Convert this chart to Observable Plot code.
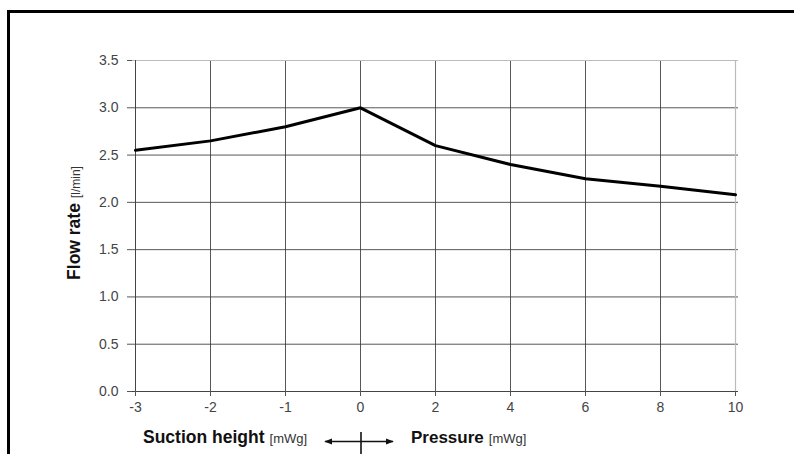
<!DOCTYPE html>
<html>
<head>
<meta charset="utf-8">
<script src="https://cdn.jsdelivr.net/npm/d3@7"></script>
<script src="https://cdn.jsdelivr.net/npm/@observablehq/plot@0.6"></script>
<style>
  html, body { margin: 0; padding: 0; background: #fff; }
  #wrap { position: relative; width: 794px; height: 454px; overflow: hidden; }
  #border { position: absolute; left: 7px; top: 10px; width: 800px; height: 460px;
            border-left: 3px solid #000; border-top: 3px solid #000; pointer-events: none; }
  svg { font-family: "Liberation Sans", Arial, sans-serif; }
  svg g[aria-label$="tick label"] text { font-size: 14px !important; fill: #444 !important; }
</style>
</head>
<body>
<div id="wrap"><div id="border"></div></div>
<script>
// Data
const xLabels = ["-3", "-2", "-1", "0", "2", "4", "6", "8", "10"];
const flowRate = [2.55, 2.65, 2.8, 3.0, 2.6, 2.4, 2.25, 2.17, 2.08];
const yTicks = [0, 0.5, 1.0, 1.5, 2.0, 2.5, 3.0, 3.5];
const data = xLabels.map((x, i) => ({x, y: flowRate[i]}));

const chart = Plot.plot({
  width: 794,
  height: 454,
  marginLeft: 132,
  marginRight: 56,
  marginTop: 60,
  marginBottom: 63,
  style: {background: "transparent", fontFamily: "Liberation Sans, Arial, sans-serif", fontSize: "14px", color: "#444"},
  x: {type: "point", domain: xLabels, padding: 0, label: null},
  y: {domain: [0, 3.5], label: null},
  marks: [
    Plot.gridX(xLabels, {stroke: "#3a3a3a", strokeOpacity: 0.85, strokeWidth: 1}),
    Plot.gridY(yTicks, {stroke: "#3a3a3a", strokeOpacity: 0.85, strokeWidth: 1}),
    Plot.ruleX([xLabels[xLabels.length - 1]], {stroke: "#bbb", strokeWidth: 1.2}),
    Plot.ruleY([3.5], {stroke: "#bbb", strokeWidth: 1.2}),
    Plot.ruleY([0], {stroke: "#444", strokeWidth: 1}),
    Plot.ruleX([xLabels[0]], {stroke: "#444", strokeWidth: 1}),
    Plot.axisX(xLabels, {tickSize: 5, tickPadding: 6, stroke: "#555", fill: "#444", fontSize: 14, label: null}),
    Plot.axisY(yTicks, {tickSize: 5, tickPadding: 9, stroke: "#555", fill: "#444", fontSize: 14, label: null, tickFormat: d => d.toFixed(1)}),
    Plot.line(data, {x: "x", y: "y", stroke: "#000", strokeWidth: 3, strokeLinejoin: "round"})
  ]
});

document.getElementById("wrap").prepend(chart);

const svg = d3.select(chart);
const xs = chart.scale("x");
const x0 = xs.apply("0");

// Y axis label
const yl = svg.append("text")
  .attr("transform", `translate(80,223) rotate(-90)`)
  .attr("text-anchor", "middle")
  .attr("fill", "#111");
yl.append("tspan").attr("font-weight", "bold").attr("font-size", 17.5).text("Flow rate");
yl.append("tspan").attr("font-size", 12).attr("dx", 5).attr("fill", "#333").text("[l/min]");

// Bottom labels
const bl = svg.append("text").attr("x", xs.apply("-3") + 8).attr("y", 443)
  .attr("text-anchor", "start").attr("fill", "#111");
bl.append("tspan").attr("font-weight", "bold").attr("font-size", 17.5).text("Suction height");
bl.append("tspan").attr("font-size", 13).attr("dx", 5).attr("fill", "#333").text("[mWg]");

const pl = svg.append("text").attr("x", x0 + 51).attr("y", 443)
  .attr("text-anchor", "start").attr("fill", "#111");
pl.append("tspan").attr("font-weight", "bold").attr("font-size", 17).text("Pressure");
pl.append("tspan").attr("font-size", 13).attr("dx", 5).attr("fill", "#333").text("[mWg]");

// Arrow
const defs = svg.append("defs");
defs.append("marker").attr("id", "ah").attr("viewBox", "0 0 10 10").attr("refX", 9).attr("refY", 5)
  .attr("markerWidth", 5).attr("markerHeight", 5).attr("orient", "auto-start-reverse")
  .append("path").attr("d", "M0,1 L10,5 L0,9 z").attr("fill", "#111");
svg.append("line").attr("x1", x0 - 35).attr("x2", x0 + 33).attr("y1", 441.5).attr("y2", 441.5)
  .attr("stroke", "#111").attr("stroke-width", 1.6)
  .attr("marker-start", "url(#ah)").attr("marker-end", "url(#ah)");
svg.append("line").attr("x1", x0 + 1).attr("x2", x0 + 1).attr("y1", 432).attr("y2", 454)
  .attr("stroke", "#111").attr("stroke-width", 1.6);
</script>
</body>
</html>
